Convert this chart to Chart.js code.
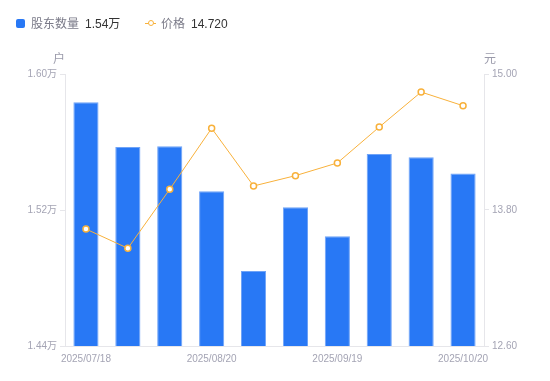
<!DOCTYPE html>
<html><head><meta charset="utf-8">
<script src="https://cdn.jsdelivr.net/npm/chart.js@4/dist/chart.umd.min.js"></script>
<style>
html,body{margin:0;padding:0;background:#fff;}
#wrap{position:relative;width:550px;height:381px;font-family:"Liberation Sans","Noto Sans CJK SC",sans-serif;}
canvas{position:absolute;left:0;top:0;}
.lg{position:absolute;top:16px;font-size:12px;line-height:16px;white-space:nowrap;}
.nm{color:#7a7a88;}
.vl{color:#333;margin-left:6px;}
.unit{position:absolute;top:49px;font-size:12px;color:#9a9aaa;}
</style></head>
<body>
<div id="wrap">
<canvas id="c" width="550" height="381"></canvas>
<div class="lg" style="left:16px;"><span style="display:inline-block;width:9px;height:9px;background:#2878f5;border-radius:2px;vertical-align:-0px;margin-right:6px;"></span><span class="nm">股东数量</span><span class="vl" id="v1"></span></div>
<div class="lg" style="left:145px;"><span style="display:inline-block;position:relative;width:11px;height:9px;margin-right:5px;vertical-align:0px;"><span style="position:absolute;left:0;top:4px;width:11px;height:1px;background:#f8b13b;"></span><span style="position:absolute;left:2.5px;top:1px;width:4px;height:4px;border:1.5px solid #f8b13b;border-radius:50%;background:#fff;"></span></span><span class="nm">价格</span><span class="vl" id="v2"></span></div>
<div class="unit" style="left:53px;">户</div>
<div class="unit" style="left:484px;">元</div>
</div>
<script>
const categories = ["2025/07/18","2025/07/31","2025/08/10","2025/08/20","2025/08/31","2025/09/10","2025/09/19","2025/09/30","2025/10/10","2025/10/20"];
const holders = [1.5834, 1.5571, 1.5575, 1.5310, 1.4841, 1.5216, 1.5045, 1.5529, 1.5510, 1.5414];
const prices = [13.632, 13.462, 13.983, 14.521, 14.012, 14.103, 14.215, 14.532, 14.841, 14.72];
const leftTicks = [1.44, 1.52, 1.60];
const rightTicks = [12.60, 13.80, 15.00];
const shownLabelIdx = [0, 3, 6, 9];

document.getElementById('v1').textContent = holders[holders.length-1].toFixed(2) + '万';
document.getElementById('v2').textContent = prices[prices.length-1].toFixed(3);

const tickFont = {family:'"Liberation Sans","Noto Sans CJK SC",sans-serif', size:10};
const tickColor = '#a4a4b4';
const lineCol = '#e6e6ea';

new Chart(document.getElementById('c'), {
  data: {
    labels: categories,
    datasets: [
      {type:'line', data:prices, yAxisID:'y1', borderColor:'#f8b13b', borderWidth:1,
       pointRadius:3, pointBorderWidth:1.5, pointBackgroundColor:'#fff', pointBorderColor:'#f8b13b',
       tension:0, order:0},
      {type:'bar', data:holders, yAxisID:'y', backgroundColor:'#2878f5', borderColor:'#6fa3f7', borderWidth:{top:1,left:1,right:1,bottom:0},
       barPercentage:0.6, categoryPercentage:1, order:1}
    ]
  },
  options: {
    responsive:false, animation:false,
    layout:{padding:{top:74, left:0, right:0, bottom:0}},
    plugins:{legend:{display:false}, tooltip:{enabled:false}},
    scales:{
      x:{
        grid:{display:false, drawTicks:false},
        border:{display:true, color:lineCol},
        ticks:{autoSkip:false, maxRotation:0, padding:7, font:tickFont, color:tickColor,
          callback:(v,i)=> shownLabelIdx.includes(i) ? categories[i] : ''},
        afterFit:(s)=>{s.height=35;}
      },
      y:{
        position:'left', min:1.44, max:1.60,
        afterBuildTicks:(s)=>{s.ticks = leftTicks.map(v=>({value:v}));},
        grid:{drawOnChartArea:false, drawTicks:true, tickLength:5, color:lineCol},
        border:{display:true, color:lineCol},
        ticks:{padding:3, font:tickFont, color:tickColor, callback:(v)=>v.toFixed(2)+'万'},
        afterFit:(s)=>{s.width=65;}
      },
      y1:{
        position:'right', min:12.6, max:15.0,
        afterBuildTicks:(s)=>{s.ticks = rightTicks.map(v=>({value:v}));},
        grid:{drawOnChartArea:false, drawTicks:true, tickLength:5, color:lineCol},
        border:{display:true, color:lineCol},
        ticks:{padding:3, font:tickFont, color:tickColor, callback:(v)=>v.toFixed(2)},
        afterFit:(s)=>{s.width=66;}
      }
    }
  }
});
</script>
</body></html>
